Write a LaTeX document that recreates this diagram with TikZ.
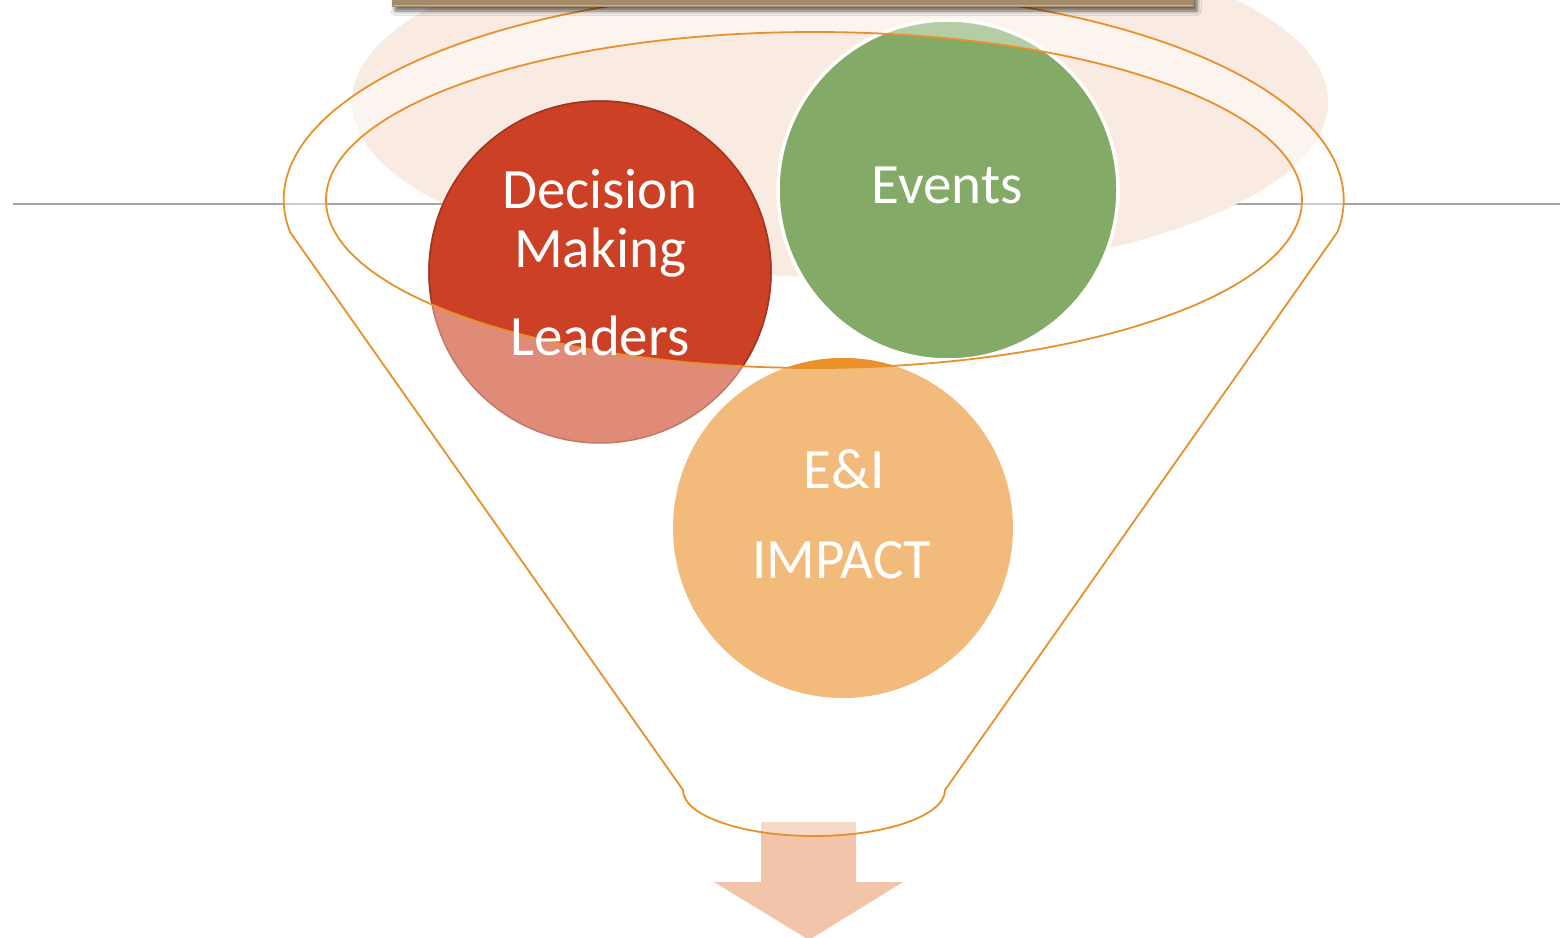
\documentclass[tikz,border=0pt]{standalone}
\usepackage{fontspec}
\setmainfont{Carlito}
\usetikzlibrary{shadows.blur}
\definecolor{funnelc}{HTML}{E8912B}
\definecolor{palec}{HTML}{FAEBE2}
\definecolor{redfull}{HTML}{CC4125}
\definecolor{redlight}{HTML}{E08B78}
\definecolor{redborder}{HTML}{9E3420}
\definecolor{redlborder}{HTML}{C07A68}
\definecolor{greenfull}{HTML}{84AA68}
\definecolor{greenlight}{HTML}{B5CDA5}
\definecolor{orangefull}{HTML}{EA9127}
\definecolor{orangelight}{HTML}{F2BB7B}
\definecolor{arrowc}{HTML}{F2C5AB}
\definecolor{boxc}{HTML}{A38A69}
\definecolor{boxhi}{HTML}{C9B291}
\definecolor{linec}{HTML}{A6A6A6}
\tikzset{
  funnelline/.style={draw=funnelc, line width=1.8pt},
  lbl/.style={text=white, font=\fontsize{57}{59}\selectfont, inner sep=0pt, anchor=base},
}
\begin{document}
\begin{tikzpicture}[x=1pt,y=-1pt]
\useasboundingbox (0,0) rectangle (1560,937);
\fill[white] (0,0) rectangle (1560,937);
% horizontal guide line
\coordinate (gl) at (13,204);
\coordinate (gr) at (1560,204);
\draw[linec, line width=1.5pt] (gl) -- (gr);
% pale glow
\fill[palec] (840,102) ellipse[x radius=488, y radius=175];
% lighter ring of the funnel top
\fill[white, opacity=0.45, even odd rule] (814,200) ellipse[x radius=530, y radius=210] (814,200) ellipse[x radius=488, y radius=168];
% circles, faded parts
\filldraw[fill=redlight, draw=redlborder, line width=1.5pt] (600,272) circle[radius=171];
\fill[greenlight] (948,190) circle[radius=169];
\fill[orangelight] (843,528) circle[radius=170];
% circles, parts inside the funnel mouth
\begin{scope}
  \clip (814,200) ellipse[x radius=488, y radius=168];
  \filldraw[fill=redfull, draw=redborder, line width=1.5pt] (600,272) circle[radius=171];
  \fill[greenfull] (948,190) circle[radius=169];
  \fill[orangefull] (843,528) circle[radius=170];
\end{scope}
\draw[white, line width=3.5pt] (948,190) circle[radius=170];
% bottom arrow
\fill[arrowc] (761,822) -- (856,822) -- (856,882) -- (903,882) -- (809,940) -- (714,882) -- (761,882) -- cycle;
\begin{scope}
  \clip (814,790) ellipse[x radius=131, y radius=46];
  \fill[white, opacity=0.35] (761,822) rectangle (856,882);
\end{scope}
% funnel outlines
\draw[funnelline, line join=round] (683,790) -- (290,232)
  arc[start angle=171.2, end angle=368.8, x radius=530, y radius=210]
  -- (945,790)
  arc[start angle=0, end angle=180, x radius=131, y radius=46] -- cycle;
\draw[funnelline] (814,200) ellipse[x radius=488, y radius=168];
% labels
\node[lbl] (dec) at (600,208) {Decision};
\node[lbl] (mak) at (600,267) {Making};
\node[lbl] (lea) at (600,355) {Leaders};
\node[lbl] (evt) at (947,203) {Events};
\node[lbl] (ei) at (844,488) {E\&I};
\node[lbl] (imp) at (842,578) {IMPACT};
% top box
\fill[boxc, blur shadow={shadow xshift=3pt, shadow yshift=-4pt, shadow blur radius=4pt, shadow opacity=60}] (392,-12) rectangle (1194,7);
\draw[boxhi, line width=1.2pt] (393,5.8) -- (1193,5.8);
\end{tikzpicture}
\end{document}
